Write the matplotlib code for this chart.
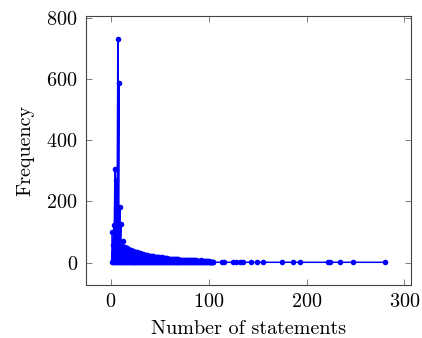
import matplotlib
matplotlib.use("Agg")
import matplotlib.pyplot as plt

plt.rcParams['font.family'] = 'cmr10'
plt.rcParams['mathtext.fontset'] = 'cm'
plt.rcParams['axes.unicode_minus'] = False
plt.rcParams['axes.formatter.use_mathtext'] = True

# dense part: for each number of statements the data goes up to a high count
# and back down to a low one (that is why it looks filled in the picture)
statements = list(range(1, 105))
freq_high = [
    99, 58, 123, 306, 270, 60, 731, 587, 181, 126,
    55, 70, 50, 52, 46, 47, 44, 42, 40, 41,
    38, 37, 35, 36, 34, 33, 35, 32, 30, 30,
    29, 28, 27, 26, 26, 25, 24, 23, 22, 23,
    21, 20, 20, 19, 19, 18, 18, 17, 17, 16,
    16, 17, 15, 15, 14, 15, 14, 13, 13, 13,
    12, 12, 13, 12, 11, 11, 11, 12, 10, 10,
    10, 10, 9, 9, 9, 10, 9, 8, 8, 8,
    8, 9, 7, 7, 7, 7, 8, 6, 6, 6,
    6, 7, 5, 5, 5, 5, 6, 4, 4, 5,
    3, 3, 3, 2,
]
freq_low = [
    1, 1, 1, 1, 1, 1, 1, 1, 1, 1,
    1, 1, 1, 1, 1, 1, 1, 1, 1, 1,
    1, 1, 1, 1, 1, 1, 1, 1, 1, 1,
    1, 1, 1, 1, 1, 1, 1, 1, 1, 1,
    1, 1, 1, 1, 1, 1, 1, 1, 1, 1,
    1, 1, 1, 1, 1, 1, 1, 1, 1, 1,
    1, 1, 1, 1, 1, 1, 1, 1, 1, 1,
    1, 1, 1, 1, 1, 1, 1, 1, 1, 1,
    1, 1, 1, 1, 1, 1, 1, 1, 1, 1,
    1, 1, 1, 1, 1, 1, 1, 1, 1, 1,
    1, 1, 1, 1,
]
# sparse tail
tail_statements = [113, 116, 125, 128, 132, 135, 143, 149, 155,
                   175, 186, 193, 222, 224, 234, 247, 280]
tail_freq = [1, 1, 1, 1, 1, 1, 1, 1, 1,
             1, 1, 1, 1, 1, 1, 1, 1]

xs, ys = [], []
for s, hi, lo in zip(statements, freq_high, freq_low):
    xs += [s, s]
    ys += [hi, lo]
xs += tail_statements
ys += tail_freq

fig = plt.figure(figsize=(4.22, 3.38), dpi=100)
ax = fig.add_axes([0.204, 0.157, 0.770, 0.796])

ax.plot(xs, ys, color='blue', linewidth=1.1,
        marker='o', markersize=4, markeredgewidth=0)

ax.set_xlim(-25.5, 306.8)
ax.set_ylim(-73, 806)
ax.set_xticks([0, 100, 200, 300])
ax.set_yticks([0, 200, 400, 600, 800])

for s in ax.spines.values():
    s.set_color('#444444')
    s.set_linewidth(0.8)
ax.tick_params(direction='in', length=4, width=0.6, color='#666666',
               top=True, right=True, labelsize=14.5, pad=6)

ax.set_xlabel('Number of statements', fontsize=14.5, labelpad=6)
ax.set_ylabel('Frequency', fontsize=14.5, labelpad=9)

fig.savefig('out.png', dpi=100)
